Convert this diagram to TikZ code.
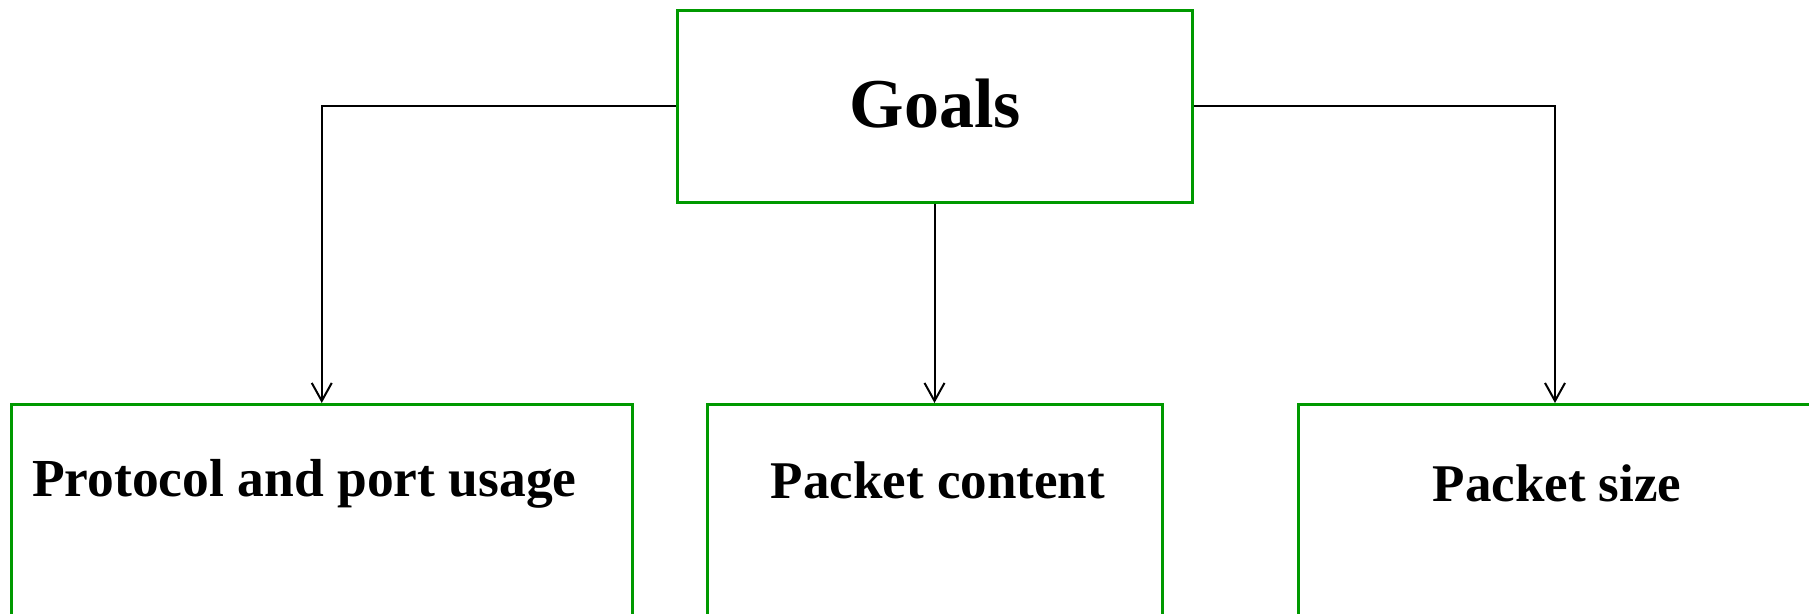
\documentclass[tikz,border=0pt]{standalone}
\usepackage{fontspec}
\setmainfont{Liberation Serif}
\usetikzlibrary{arrows.meta}
\definecolor{boxgreen}{RGB}{0,153,0}
\begin{document}
\begin{tikzpicture}[x=1pt,y=-1pt,
  gbox/.style={draw=boxgreen, line width=3pt, rectangle, inner sep=0pt, fill=none},
  lbl/.style={inner sep=0pt, anchor=base, font=\bfseries\fontsize{53}{60}\selectfont},
  arr/.style={draw=black, line width=2pt, -{Straight Barb[length=18pt,width=20pt,line width=2pt]}}]
\useasboundingbox (0,0) rectangle (1809,613);
\fill[white] (0,0) rectangle (1809,613);
% top box
\node[gbox, minimum width=515pt, minimum height=191.6pt] (goals) at (934.5,106.2) {};
\node[inner sep=0pt, anchor=base, font=\bfseries\fontsize{70}{80}\selectfont] (goalstxt) at (935.5,127) {Goals};
% bottom boxes (running off the page)
\node[gbox, minimum width=620.5pt, minimum height=400pt, anchor=north] (b1) at (321.75,403) {};
\node[gbox, minimum width=455pt, minimum height=400pt, anchor=north] (b2) at (934.5,403) {};
\node[gbox, minimum width=514pt, minimum height=400pt, anchor=north] (b3) at (1555,403) {};
% labels
\node[lbl, anchor=base west, font=\bfseries\fontsize{53.5}{60}\selectfont] (t1) at (32,496) {Protocol and port usage};
\node[lbl] (t2) at (938,498) {Packet content};
\node[lbl] (t3) at (1557,501) {Packet size};
% connectors
\draw[arr] (goals.west) -| (b1.north);
\draw[arr] (goals.south) -- (b2.north);
\draw[arr] (goals.east) -| (b3.north);
\end{tikzpicture}
\end{document}
